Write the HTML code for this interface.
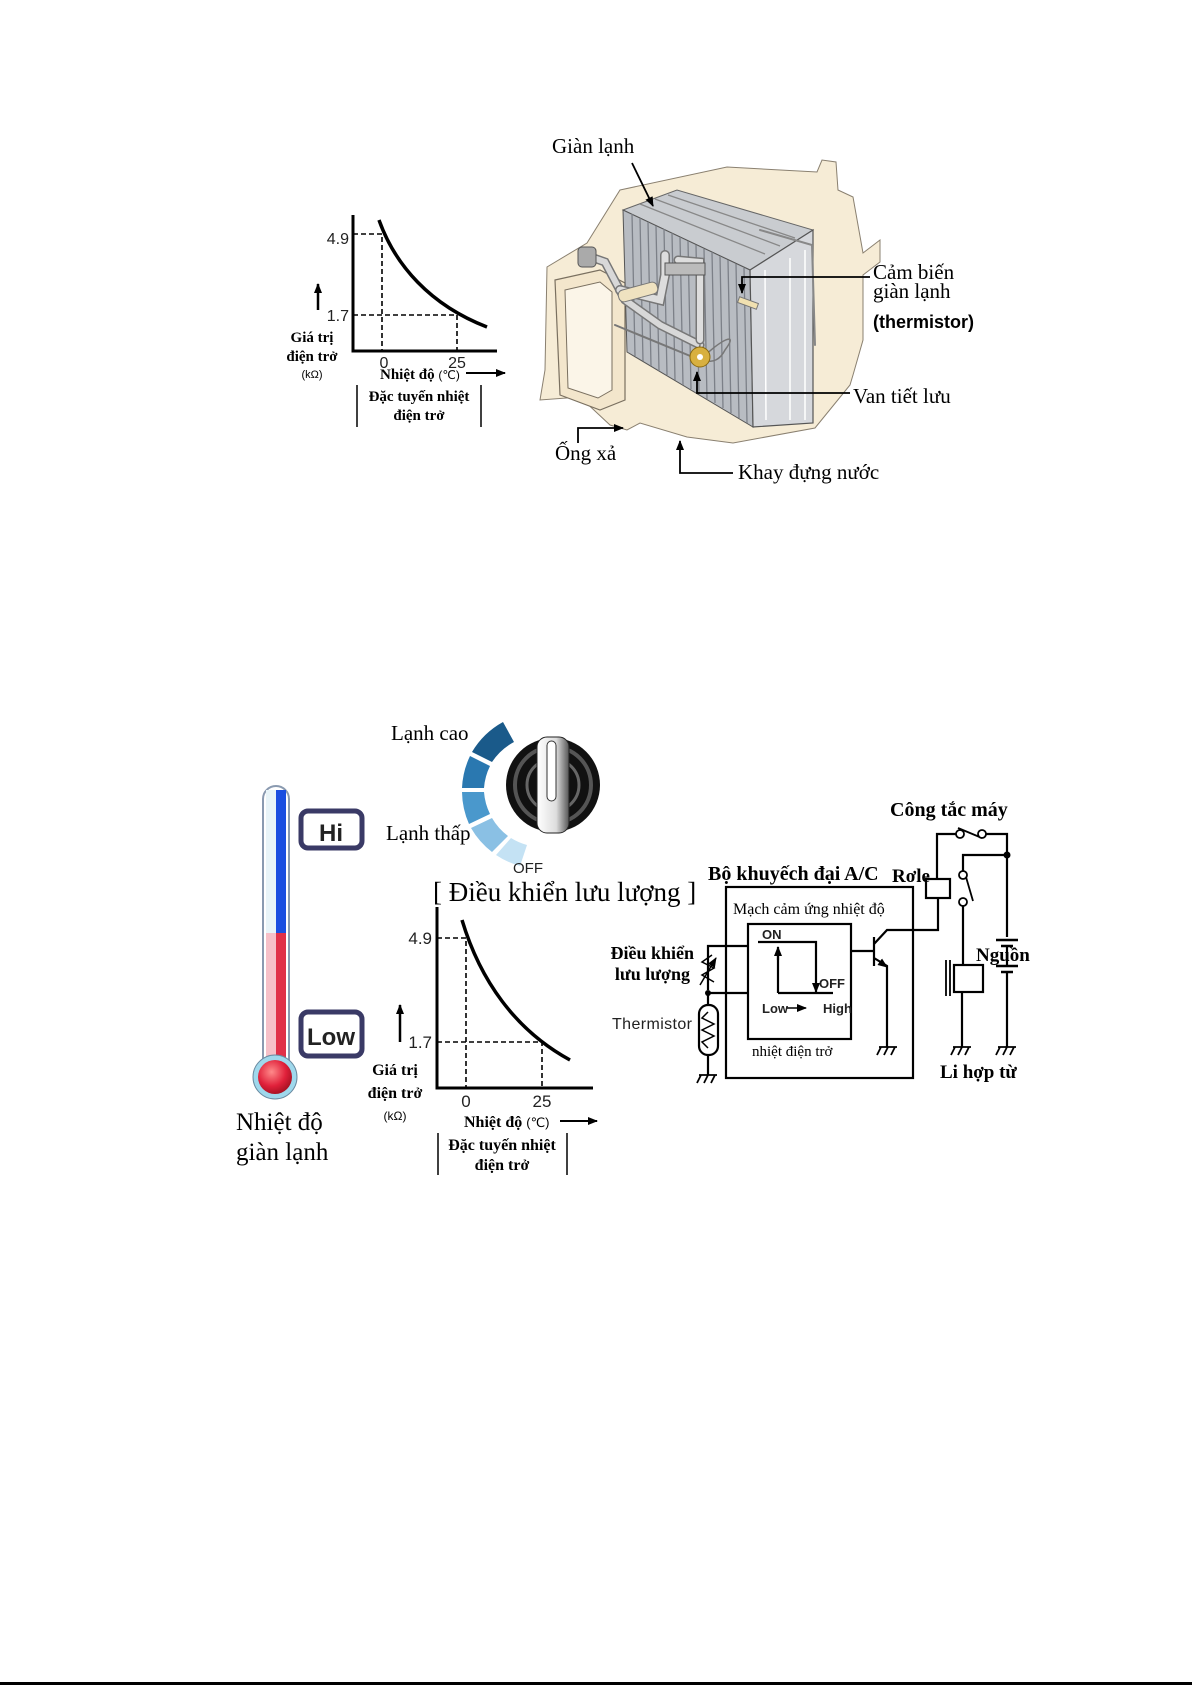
<!DOCTYPE html>
<html><head><meta charset="utf-8"><style>
html,body{margin:0;padding:0;background:#fff;}
svg{display:block}
.s{font-family:"Liberation Serif","DejaVu Serif",serif;}
.a{font-family:"Liberation Sans","DejaVu Sans",sans-serif;}
</style></head><body>
<svg width="1192" height="1685" viewBox="0 0 1192 1685" xmlns="http://www.w3.org/2000/svg">
<defs>
<marker id="ar" markerWidth="10" markerHeight="8" refX="9" refY="4" orient="auto" markerUnits="userSpaceOnUse"><path d="M0,0 L10,4 L0,8 Z" fill="#000"/></marker>
<linearGradient id="hnd" x1="0" x2="1"><stop offset="0" stop-color="#fff"/><stop offset="0.6" stop-color="#ddd"/><stop offset="1" stop-color="#555"/></linearGradient>
<radialGradient id="bulb" cx="0.4" cy="0.35" r="0.7"><stop offset="0" stop-color="#ff8a8a"/><stop offset="0.6" stop-color="#e0203a"/><stop offset="1" stop-color="#a01020"/></radialGradient>
</defs>

<!-- ============ TOP FIGURE ============ -->
<g stroke="#000" fill="none">
<path d="M353,215 V351 H497" stroke-width="3"/>
<path d="M353,234 H382 V351 M353,315 H457 V351" stroke-width="1.6" stroke-dasharray="5,3"/>
<path d="M379,220 C395,265 430,305 487,327" stroke-width="3.5"/>
<path d="M318,310 V284" stroke-width="2.5" marker-end="url(#ar)"/>
<path d="M466,373 H505" stroke-width="2" marker-end="url(#ar)"/>
<path d="M357,385 V427 M481,385 V427" stroke-width="1.5"/>
</g>
<g class="a" font-size="16" fill="#222">
<text x="349" y="244" text-anchor="end">4.9</text>
<text x="349" y="321" text-anchor="end">1.7</text>
<text x="384" y="368" text-anchor="middle">0</text>
<text x="457" y="368" text-anchor="middle">25</text>
</g>
<g class="s" font-weight="bold" font-size="15" fill="#000" text-anchor="middle">
<text x="312" y="342">Giá trị</text>
<text x="312" y="361">điện trở</text>
<text x="312" y="378" class="a" font-size="11" font-weight="normal">(kΩ)</text>
<text x="380" y="379" text-anchor="start">Nhiệt độ <tspan class="a" font-size="12" font-weight="normal">(℃)</tspan></text>
<text x="419" y="401">Đặc tuyến nhiệt</text>
<text x="419" y="420">điện trở</text>
</g>

<!-- evaporator housing -->
<path d="M620,190 L727,167 L817,172 L822,160 L836,162 L838,190 L853,197 L863,253 L880,240 L880,262 L863,275 L863,340 L853,375 L850,385 L815,428 L733,443 L687,437 L640,423 L627,430 L610,425 L580,397 L540,400 L545,370 L547,267 L587,243 Z" fill="#f6ecd6" stroke="#8a8070" stroke-width="1"/>
<path d="M555,280 L600,270 L625,283 L625,400 L600,410 L560,395 Z" fill="#f3e6cc" stroke="#7a7060" stroke-width="1.2"/>
<path d="M565,290 L600,282 L612,292 L612,390 L598,398 L568,388 Z" fill="#fbf5e8" stroke="#7a7060" stroke-width="1"/>
<path d="M623,210 L677,190 L813,230 L750,270 Z" fill="#c9ccd0" stroke="#666" stroke-width="1"/>
<path d="M623,210 L750,270 L753,427 L627,352 Z" fill="#b8bcc2" stroke="#555" stroke-width="1"/>
<g stroke="#7c8088" stroke-width="1.3">
<path d="M632,214 L635,356 M640,218 L643,361 M648,222 L651,366 M656,226 L659,371 M664,229 L667,375 M672,233 L675,380 M680,237 L683,385 M688,241 L691,389 M696,245 L699,394 M704,249 L707,399 M712,252 L715,403 M720,256 L723,408 M728,260 L731,413 M736,264 L739,418 M744,268 L747,423"/>
<path d="M640,204 L765,254 M655,199 L780,246 M668,195 L795,238" stroke="#888"/>
</g>
<path d="M750,270 L813,230 L813,423 L753,427 Z" fill="#d6d8dc" stroke="#555" stroke-width="1.2"/>
<path d="M765,270 L766,420 M790,258 L790,420 M805,250 L805,420" stroke="#fff" stroke-width="1.5"/>
<g fill="none" stroke-linecap="round">
<path d="M585,255 L605,262 L625,300 L660,325 L700,345" stroke="#777" stroke-width="9"/>
<path d="M585,255 L605,262 L625,300 L660,325 L700,345" stroke="#d8d8d8" stroke-width="6"/>
<path d="M620,290 L660,300 L665,275 L665,255" stroke="#777" stroke-width="10"/>
<path d="M620,290 L660,300 L665,275 L665,255" stroke="#ddd" stroke-width="7"/>
<path d="M678,260 L700,262 L700,340" stroke="#777" stroke-width="9"/>
<path d="M678,260 L700,262 L700,340" stroke="#ddd" stroke-width="6"/>
<path d="M615,325 L700,360" stroke="#777" stroke-width="2"/>
<path d="M700,360 C720,340 740,330 725,350 C715,370 695,360 700,345" stroke="#777" stroke-width="1.5"/>
<path d="M760,230 L812,245 L815,345" stroke="#888" stroke-width="2"/>
</g>
<rect x="618" y="286" width="40" height="12" rx="5" fill="#efe2c0" stroke="#777" transform="rotate(-15 638 292)"/>
<rect x="578" y="247" width="18" height="20" rx="4" fill="#aaa" stroke="#555"/>
<rect x="665" y="263" width="40" height="12" fill="#bbb" stroke="#555"/>
<circle cx="700" cy="357" r="10" fill="#d8b040" stroke="#8a6a10"/>
<circle cx="700" cy="357" r="3" fill="#fff"/>
<rect x="738" y="300" width="20" height="6" fill="#f0e0b0" stroke="#777" transform="rotate(20 748 303)"/>
<g stroke="#000" fill="none" stroke-width="1.8">
<path d="M632,163 L653,206" marker-end="url(#ar)"/>
<path d="M870,277 H742 V293" marker-end="url(#ar)"/>
<path d="M850,393 H697 V372" marker-end="url(#ar)"/>
<path d="M578,443 V428 H623" marker-end="url(#ar)"/>
<path d="M733,473 H680 V441" marker-end="url(#ar)"/>
</g>
<g class="s" font-size="21" fill="#000">
<text x="552" y="153">Giàn lạnh</text>
<text x="873" y="279">Cảm biến</text>
<text x="873" y="298">giàn lạnh</text>
<text x="853" y="403">Van tiết lưu</text>
<text x="555" y="460">Ống xả</text>
<text x="738" y="479">Khay đựng nước</text>
</g>
<text x="873" y="328" class="a" font-size="18" font-weight="bold">(thermistor)</text>

<!-- ============ BOTTOM FIGURE ============ -->
<rect x="263" y="786" width="26" height="300" rx="13" fill="#fff" stroke="#8a9ab0" stroke-width="2"/>
<rect x="266" y="790" width="10" height="143" fill="#e8f4f8"/>
<rect x="276" y="790" width="10" height="143" fill="#1a4ee0"/>
<rect x="266" y="933" width="10" height="140" fill="#f6c0c8"/>
<rect x="276" y="933" width="10" height="140" fill="#e03048"/>
<circle cx="275" cy="1077" r="22" fill="#9fd8ec" stroke="#6a8aa0"/>
<circle cx="275" cy="1077" r="17" fill="url(#bulb)"/>
<g>
<rect x="301" y="811" width="61" height="37" rx="7" fill="#fff" stroke="#3a3a66" stroke-width="5"/>
<rect x="301" y="1012" width="61" height="44" rx="7" fill="#fff" stroke="#3a3a66" stroke-width="5"/>
<text x="331" y="841" class="a" font-size="24" font-weight="bold" text-anchor="middle" fill="#222">Hi</text>
<text x="331" y="1045" class="a" font-size="24" font-weight="bold" text-anchor="middle" fill="#222">Low</text>
</g>
<g class="s" font-size="25" fill="#000">
<text x="236" y="1130">Nhiệt độ</text>
<text x="236" y="1160">giàn lạnh</text>
</g>
<g>
<path d="M503,722 A82,82 0 0 0 472,752 L492,762 A60,60 0 0 1 514,742 Z" fill="#1a5a8a"/>
<path d="M470,756 A82,82 0 0 0 462,788 L484,788 A60,60 0 0 1 490,766 Z" fill="#2a78b0"/>
<path d="M462,792 A82,82 0 0 0 469,824 L490,814 A60,60 0 0 1 484,792 Z" fill="#4a98cc"/>
<path d="M471,828 A82,82 0 0 0 492,852 L508,836 A60,60 0 0 1 492,818 Z" fill="#8ac0e4"/>
<path d="M496,855 A82,82 0 0 0 520,866 L527,845 A60,60 0 0 1 511,838 Z" fill="#c4e2f4"/>
<circle cx="553" cy="785" r="47" fill="#111"/>
<circle cx="553" cy="785" r="38" fill="none" stroke="#555" stroke-width="4"/>
<circle cx="553" cy="785" r="26" fill="none" stroke="#666" stroke-width="3"/>
<rect x="537" y="737" width="32" height="96" rx="10" fill="url(#hnd)" stroke="#222"/>
<rect x="547" y="741" width="9" height="60" rx="4.5" fill="#fff" stroke="#333"/>
</g>
<g class="s" font-size="21" fill="#000">
<text x="391" y="740">Lạnh cao</text>
<text x="386" y="840">Lạnh thấp</text>
</g>
<text x="513" y="873" class="a" font-size="15" fill="#222">OFF</text>
<text x="433" y="901" class="s" font-size="27" fill="#000">[ Điều khiển lưu lượng ]</text>

<g stroke="#000" fill="none">
<path d="M437,907 V1088 H593" stroke-width="3"/>
<path d="M437,938 H466 V1088 M437,1042 H542 V1088" stroke-width="1.6" stroke-dasharray="5,3"/>
<path d="M462,920 C480,980 515,1030 570,1060" stroke-width="3.5"/>
<path d="M400,1042 V1005" stroke-width="2.5" marker-end="url(#ar)"/>
<path d="M560,1121 H597" stroke-width="2" marker-end="url(#ar)"/>
<path d="M438,1133 V1175 M567,1133 V1175" stroke-width="1.5"/>
</g>
<g class="a" font-size="17" fill="#222">
<text x="432" y="944" text-anchor="end">4.9</text>
<text x="432" y="1048" text-anchor="end">1.7</text>
<text x="466" y="1107" text-anchor="middle">0</text>
<text x="542" y="1107" text-anchor="middle">25</text>
</g>
<g class="s" font-weight="bold" font-size="16" fill="#000" text-anchor="middle">
<text x="395" y="1075">Giá trị</text>
<text x="395" y="1098">điện trở</text>
<text x="395" y="1120" class="a" font-size="12" font-weight="normal">(kΩ)</text>
<text x="464" y="1127" text-anchor="start">Nhiệt độ <tspan class="a" font-size="13" font-weight="normal">(℃)</tspan></text>
<text x="502" y="1150">Đặc tuyến nhiệt</text>
<text x="502" y="1170">điện trở</text>
</g>

<!-- circuit -->
<g stroke="#000" fill="none" stroke-width="2.2">
<rect x="726" y="887" width="187" height="191"/>
<rect x="748" y="924" width="103" height="115"/>
<path d="M758,942 H816 V990"/>
<path d="M778,993 H833 M778,993 V950"/>
<path d="M816,984 V992" marker-end="url(#ar)"/>
<path d="M778,960 V947" marker-end="url(#ar)"/>
<path d="M786,1008 H806" stroke-width="1.5" marker-end="url(#ar)"/>
<path d="M748,946 H708 V990 M708,993 H748 M708,993 V1005 M708,1055 V1075"/>
<path d="M712,955 L702,962 L714,968 L702,975 L714,982" stroke-width="1.5"/>
<path d="M700,985 L716,958" stroke-width="1.5" marker-end="url(#ar)"/>
<rect x="699" y="1005" width="19" height="50" rx="9"/>
<path d="M708,1012 L702,1018 L714,1024 L702,1030 L714,1036 L702,1042 L708,1048" stroke-width="1.5"/>
<path d="M851,951 H874 M874,937 V966 M874,944 L887,930 H938 V898 M874,958 L887,966 V1047"/>
<path d="M880,962 L887,967" marker-end="url(#ar)" stroke-width="1.5"/>
<rect x="926" y="879" width="24" height="19"/>
<path d="M937,879 V834 H957 M985,834 H1007 V937 M1007,855 H963 V871 M963,906 V965 M962,992 V1047 M1007,976 V1047"/>
<path d="M958,828 L982,838 M966,877 L973,901" stroke-width="1.8"/>
<rect x="954" y="965" width="29" height="27"/>
<path d="M946,960 V996 M950,960 V996" stroke-width="1.8"/>
<path d="M996,940 H1018 M1001,946 H1013 M996,966 H1018 M1001,972 H1013" stroke-width="2.5"/>
<path d="M1007,946 V966 M1007,972 V976"/>
</g>
<g fill="#fff" stroke="#000" stroke-width="1.8">
<circle cx="960" cy="834" r="4"/><circle cx="982" cy="834" r="4"/>
<circle cx="963" cy="875" r="4"/><circle cx="963" cy="902" r="4"/>
</g>
<circle cx="1007" cy="855" r="3.5" fill="#000"/>
<circle cx="708" cy="993" r="3" fill="#000"/>
<g stroke="#000" stroke-width="1.8">
<path d="M699,1075 H717 M701,1075 L697,1083 M708,1075 L704,1083 M715,1075 L711,1083"/>
<path d="M879,1047 H897 M881,1047 L877,1055 M888,1047 L884,1055 M895,1047 L891,1055"/>
<path d="M953,1047 H971 M955,1047 L951,1055 M962,1047 L958,1055 M969,1047 L965,1055"/>
<path d="M998,1047 H1016 M1000,1047 L996,1055 M1007,1047 L1003,1055 M1014,1047 L1010,1055"/>
</g>
<g class="s" fill="#000">
<text x="890" y="816" font-size="20" font-weight="bold">Công tắc máy</text>
<text x="892" y="882" font-size="19" font-weight="bold">Rơle</text>
<text x="708" y="880" font-size="20" font-weight="bold">Bộ khuyếch đại A/C</text>
<text x="733" y="914" font-size="16">Mạch cảm ứng nhiệt độ</text>
<text x="752" y="1056" font-size="15">nhiệt điện trở</text>
<text x="694" y="959" font-size="18" font-weight="bold" text-anchor="end">Điều khiển</text>
<text x="690" y="980" font-size="18" font-weight="bold" text-anchor="end">lưu lượng</text>
<text x="976" y="961" font-size="19" font-weight="bold">Nguồn</text>
<text x="940" y="1078" font-size="19" font-weight="bold">Li hợp từ</text>
</g>
<g class="a" fill="#222">
<text x="762" y="939" font-size="13" font-weight="bold">ON</text>
<text x="819" y="988" font-size="13" font-weight="bold">OFF</text>
<text x="762" y="1013" font-size="13" font-weight="bold">Low</text>
<text x="823" y="1013" font-size="13" font-weight="bold">High</text>
<text x="692" y="1029" font-size="16" text-anchor="end" textLength="80">Thermistor</text>
</g>

<rect x="0" y="1682" width="1192" height="3" fill="#000"/>
</svg>
</body></html>
